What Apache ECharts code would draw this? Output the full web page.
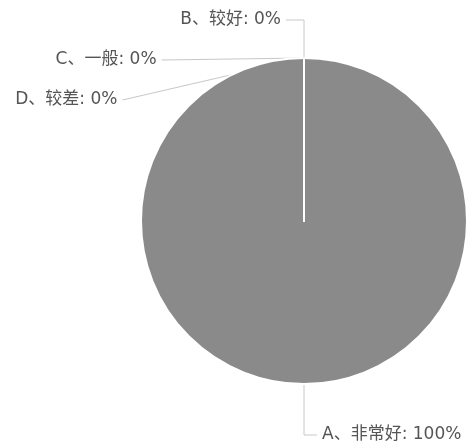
<!DOCTYPE html>
<html><head><meta charset="utf-8">
<script src="https://cdn.jsdelivr.net/npm/echarts@6/dist/echarts.min.js"></script>
<style>html,body{margin:0;padding:0;background:#fff}#c{width:474px;height:447px}</style>
</head><body><div id="c"></div>
<script>
const categories = ['A、非常好', 'B、较好', 'C、一般', 'D、较差'];
const values = [30, 0, 0, 0];

const lineLen = [[51, 13], [40, 18], [13, 42], [13, 46]];

const chart = echarts.init(document.getElementById('c'), null, {renderer: 'canvas'});
chart.setOption({
  animation: false,
  backgroundColor: '#fff',
  series: [{
    type: 'pie',
    center: [304, 221],
    radius: 163,
    startAngle: 90,
    clockwise: true,
    avoidLabelOverlap: true,
    minShowLabelAngle: 0,
    stillShowZeroSum: true,
    itemStyle: {color: '#8a8a8a', borderColor: '#fff', borderWidth: 2},
    label: {
      formatter: '{b}: {d}%',
      color: '#555',
      fontSize: 17,
      lineHeight: 38,
      fontFamily: 'DejaVu Sans, Noto Sans CJK SC'
    },
    labelLine: {lineStyle: {color: '#c8c8c8', width: 1}},
    data: categories.map((c, i) => ({
      name: c, value: values[i],
      label: i === 0 ? {lineHeight: 20} : undefined,
      labelLine: {length: lineLen[i][0], length2: lineLen[i][1]}
    }))
  }]
});
</script></body></html>
